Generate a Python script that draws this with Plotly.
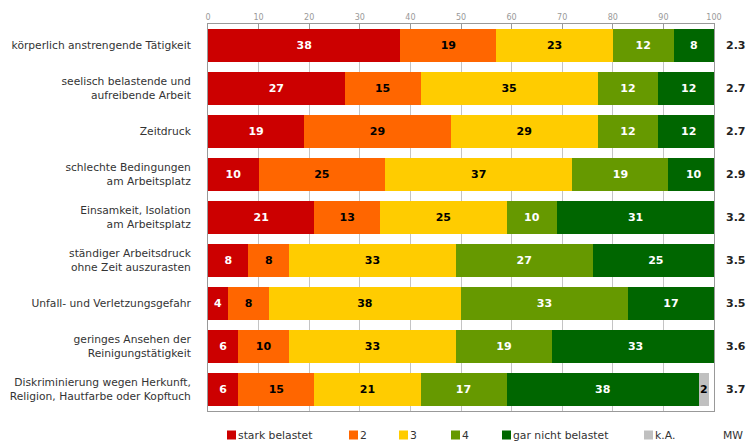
import plotly.graph_objects as go

categories = [
    "körperlich anstrengende Tätigkeit",
    "seelisch belastende und<br>aufreibende Arbeit",
    "Zeitdruck",
    "schlechte Bedingungen<br>am Arbeitsplatz",
    "Einsamkeit, Isolation<br>am Arbeitsplatz",
    "ständiger Arbeitsdruck<br>ohne Zeit auszurasten",
    "Unfall- und Verletzungsgefahr",
    "geringes Ansehen der<br>Reinigungstätigkeit",
    "Diskriminierung wegen Herkunft,<br>Religion, Hautfarbe oder Kopftuch",
]

stark_belastet = [38, 27, 19, 10, 21, 8, 4, 6, 6]
wert_2 = [19, 15, 29, 25, 13, 8, 8, 10, 15]
wert_3 = [23, 35, 29, 37, 25, 33, 38, 33, 21]
wert_4 = [12, 12, 12, 19, 10, 27, 33, 19, 17]
gar_nicht_belastet = [8, 12, 12, 10, 31, 25, 17, 33, 38]
keine_angabe = [0, 0, 0, 0, 0, 0, 0, 0, 2]
mittelwert = ["2.3", "2.7", "2.7", "2.9", "3.2", "3.5", "3.5", "3.6", "3.7"]

series_names = ["stark belastet", "2", "3", "4", "gar nicht belastet", "k.A."]
series_values = [stark_belastet, wert_2, wert_3, wert_4, gar_nicht_belastet, keine_angabe]
series_colors = ["#CC0000", "#FF6600", "#FFCC00", "#669900", "#006600", "#C0C0C0"]
text_colors = ["white", "black", "black", "white", "white", "black"]
x_ticks = list(range(0, 101, 10))

FONT = "DejaVu Sans, Verdana, sans-serif"

fig = go.Figure()
for name, vals, col, tcol in zip(series_names, series_values, series_colors, text_colors):
    fig.add_trace(go.Bar(
        y=categories, x=vals, name=name, orientation="h",
        marker=dict(color=col, line=dict(width=0)),
        text=[str(v) if v else "" for v in vals],
        textposition="inside", insidetextanchor="middle",
        constraintext="none",
        textfont=dict(color=tcol, size=11, family=FONT, weight="bold"),
        showlegend=False, hoverinfo="skip",
    ))

L, R, T, B = 208, 36, 24, 34
W, H = 750, 445
pw = W - L - R
ph = H - T - B

def px2paper(px):
    return (px - L) / pw

annotations = []
for cat, mw in zip(categories, mittelwert):
    annotations.append(dict(
        x=px2paper(748), xref="paper", y=cat, yref="y", text=mw,
        showarrow=False, xanchor="right", yanchor="middle",
        font=dict(size=11, family=FONT, color="#222", weight="bold"),
    ))

legend_x = [227, 349, 399, 451, 502, 644]
legend_y = (T + ph - 435) / ph
shapes = []
for name, col, lx in zip(series_names, series_colors, legend_x):
    shapes.append(dict(
        type="rect", xref="paper", yref="paper",
        xsizemode="pixel", ysizemode="pixel",
        xanchor=px2paper(lx), yanchor=legend_y,
        x0=0, x1=9, y0=-4.5, y1=4.5,
        fillcolor=col, line=dict(width=0),
    ))
    annotations.append(dict(
        x=px2paper(lx + 9), xref="paper", y=legend_y, yref="paper",
        text=name, showarrow=False, xanchor="left", yanchor="middle",
        font=dict(size=10.8, family=FONT, color="#333"),
    ))
annotations.append(dict(
    x=px2paper(721), xref="paper", y=legend_y, yref="paper",
    text="MW", showarrow=False, xanchor="left", yanchor="middle",
    font=dict(size=10.8, family=FONT, color="#333"),
))

fig.update_layout(
    barmode="stack",
    bargap=0.25,
    width=W, height=H,
    margin=dict(l=L, r=R, t=T, b=B, pad=0, autoexpand=False),
    paper_bgcolor="white", plot_bgcolor="white",
    font=dict(family=FONT, size=11, color="#333"),
    xaxis=dict(
        side="top", range=[0, 100], tickvals=x_ticks,
        tickfont=dict(size=8, color="#999", family=FONT),
        showgrid=True, gridcolor="#c4c4c4", gridwidth=1,
        showline=True, linecolor="#999", linewidth=1, mirror=True,
        ticks="inside", ticklen=5, tickcolor="#999",
        zeroline=False, fixedrange=True, automargin=False,
    ),
    yaxis=dict(
        autorange="reversed",
        tickfont=dict(size=10.7, family=FONT, color="#333"),
        showline=True, linecolor="#999", linewidth=1, mirror=True,
        ticks="", ticklabelstandoff=14, showgrid=False,
        fixedrange=True, automargin=False,
    ),
    annotations=annotations,
    shapes=shapes,
    showlegend=False,
)

fig.write_html("out.html")
